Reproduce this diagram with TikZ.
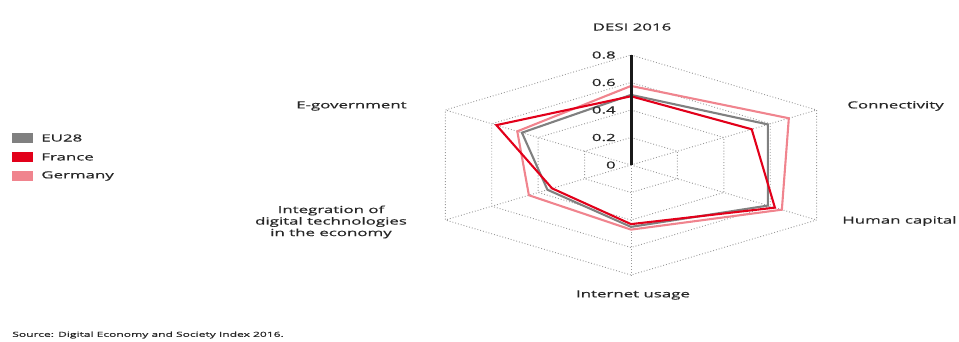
\documentclass[tikz,border=0pt]{standalone}
\usepackage{fontspec}
\setmainfont{Open Sans}
\newfontfamily\chartfont{Open Sans}[FakeBold=0.5]
\definecolor{euGray}{RGB}{128,128,128}
\definecolor{frRed}{RGB}{226,0,26}
\definecolor{deRose}{RGB}{240,132,142}
\begin{document}
\begin{tikzpicture}[x=1bp,y=1bp,
  grid/.style   ={black!40,dotted,line width=0.9bp},
  series/.style ={line width=2.1bp,line join=miter},
  axisline/.style={black!90,line width=3bp},
  axislabel/.style={font=\chartfont\fontsize{9.8bp}{11.5bp}\selectfont,xscale=1.72,inner sep=0pt,text=black!85},
  ticklabel/.style={axislabel,anchor=east},
  legbox/.style ={minimum width=21bp,minimum height=10bp,inner sep=0pt},
  legtext/.style={axislabel,anchor=west}
]
  % ----- page frame -----
  \useasboundingbox (0,0) rectangle (959,341);

  % ----- radar chart, unit = value 1 -----
  \begin{scope}[shift={(631,176)},xscale=268,yscale=137.5]
    % grid hexagons and spokes
    \foreach \r in {0.2,0.4,0.6,0.8}
      \draw[grid] (90:\r) -- (30:\r) -- (-30:\r) -- (-90:\r) -- (-150:\r) -- (150:\r) -- cycle;
    \foreach \a in {30,-30,-90,-150,150}
      \draw[grid] (0,0) -- (\a:0.8);

    % series (DESI, connectivity, human capital, internet, integration, e-gov)
    \draw[series,deRose] (90:0.575) -- (30:0.68) -- (-30:0.65) -- (-90:0.47) -- (-150:0.44) -- (150:0.49) -- cycle;
    \draw[series,euGray] (90:0.51) -- (30:0.59) -- (-30:0.59) -- (-90:0.45) -- (-150:0.36) -- (150:0.47) -- cycle;
    \draw[series,frRed]  (90:0.50) -- (30:0.52) -- (-30:0.62) -- (-90:0.43) -- (-150:0.34) -- (150:0.58) -- cycle;

    % value axis on top
    \coordinate (origin) at (0,0);
    \coordinate (axisTop) at (90:0.8);
    \draw[axisline] (origin) -- (axisTop);
  \end{scope}

  % tick values
  \foreach \v [count=\i] in {0,0.2,0.4,0.6,0.8}
    \node[ticklabel] (tick\i) at (616,{176+137.5*\v}) {\v};

  % ----- axis labels -----
  \node[axislabel] (desi) at (632,314) {DESI 2016};
  \node[axislabel,anchor=west] (conn) at (847,235) {Connectivity};
  \node[axislabel,anchor=west] (human) at (842,120) {Human capital};
  \node[axislabel] (internet) at (633,46) {Internet usage};
  \node[axislabel,align=center] (integ) at (331,119) {Integration of\\digital technologies\\in the economy};
  \node[axislabel,anchor=east] (egov) at (407,235) {E-government};

  % ----- legend -----
  \node[legbox,fill=euGray] (keyEU) at (22.5,203) {};
  \node[legtext] (txtEU) at (41,203) {EU28};
  \node[legbox,fill=frRed] (keyFR) at (22.5,184) {};
  \node[legtext] (txtFR) at (41,184) {France};
  \node[legbox,fill=deRose] (keyDE) at (22.5,165) {};
  \node[legtext] (txtDE) at (41,165) {Germany};

  % ----- source note -----
  \node[anchor=west,inner sep=0pt,xscale=1.72,text=black!85,font=\chartfont\fontsize{7bp}{8bp}\selectfont] (source) at (12,6) {Source: Digital Economy and Society Index 2016.};
\end{tikzpicture}
\end{document}
